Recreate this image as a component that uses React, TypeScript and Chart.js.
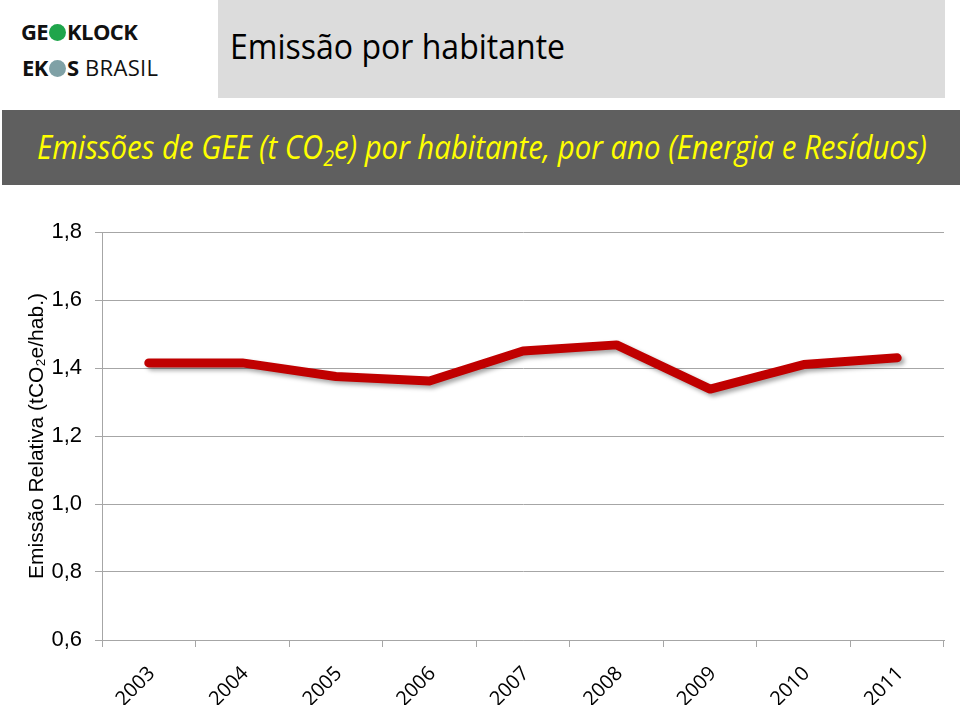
import React, { useEffect, useRef } from "react";
import { Chart, registerables } from "chart.js";

Chart.register(...registerables);

const years = ["2003", "2004", "2005", "2006", "2007", "2008", "2009", "2010", "2011"];
const emissions = [1.415, 1.415, 1.375, 1.362, 1.45, 1.468, 1.338, 1.41, 1.43];
const yTickValues = [0.6, 0.8, 1.0, 1.2, 1.4, 1.6, 1.8];

const shadowPlugin = {
  id: "lineShadow",
  beforeDatasetsDraw(chart: any) {
    const ctx = chart.ctx;
    ctx.save();
    ctx.shadowColor = "rgba(0,0,0,0.35)";
    ctx.shadowBlur = 4;
    ctx.shadowOffsetX = 3;
    ctx.shadowOffsetY = 3;
  },
  afterDatasetsDraw(chart: any) {
    chart.ctx.restore();
  },
};

function ChartBox() {
  const ref = useRef<HTMLCanvasElement | null>(null);
  useEffect(() => {
    if (!ref.current) return;
    const chart = new Chart(ref.current, {
      type: "line",
      data: {
        labels: years,
        datasets: [
          {
            data: emissions,
            borderColor: "#c00000",
            borderWidth: 9,
            borderCapStyle: "round",
            borderJoinStyle: "round",
            pointRadius: 0,
            tension: 0,
            fill: false,
          },
        ],
      },
      plugins: [shadowPlugin],
      options: {
        animation: false,
        responsive: true,
        maintainAspectRatio: false,
        layout: { padding: { top: 42, right: 16, left: 0, bottom: 0 } },
        plugins: { legend: { display: false }, tooltip: { enabled: false } },
        scales: {
          x: {
            type: "category",
            offset: true,
            grid: {
              offset: true,
              drawOnChartArea: false,
              drawTicks: true,
              tickLength: 7,
              color: "#a6a6a6",
            },
            border: { color: "#a6a6a6", width: 1 },
            ticks: {
              minRotation: 45,
              maxRotation: 45,
              padding: 15,
              labelOffset: 3,
              color: "#000",
              font: { family: "'Open Sans', sans-serif", size: 20 },
            },
            afterFit: (scale: any) => {
              scale.height = 65;
            },
          },
          y: {
            min: 0.6,
            max: 1.8,
            afterBuildTicks: (scale: any) => {
              scale.ticks = yTickValues.map((v) => ({ value: v }));
            },
            grid: {
              color: "#a6a6a6",
              tickLength: 7,
              drawTicks: true,
            },
            border: { color: "#a6a6a6", width: 1 },
            ticks: {
              padding: 13,
              color: "#000",
              font: { family: "'Liberation Sans', Arial, sans-serif", size: 22 },
              callback: (v: any) => Number(v).toFixed(1).replace(".", ","),
            },
            title: {
              display: true,
              text: "Emissão Relativa (tCO₂e/hab.)",
              color: "#000",
              font: { family: "'Liberation Sans', Arial, sans-serif", size: 21 },
              padding: { top: 25, bottom: 0 },
            },
            afterFit: (scale: any) => {
              scale.width = 102;
            },
          },
        },
      },
    });
    return () => chart.destroy();
  }, []);
  return (
    <div style={{ position: "absolute", left: 0, top: 190, width: 960, height: 515 }}>
      <canvas ref={ref} />
    </div>
  );
}

export default function App() {
  return (
    <div
      style={{
        position: "absolute",
        left: 0,
        top: 0,
        width: 960,
        height: 705,
        background: "#fff",
        overflow: "hidden",
        fontFamily: "'Open Sans', sans-serif",
      }}
    >
      {/* Logo */}
      <div
        style={{
          position: "absolute",
          left: 21,
          top: 18,
          fontFamily: "'Open Sans', sans-serif",
          fontWeight: 700,
          fontSize: 22,
          lineHeight: "26px",
          color: "#111",
          letterSpacing: -0.6,
          whiteSpace: "nowrap",
        }}
      >
        GE
        <span
          style={{
            display: "inline-block",
            width: 17,
            height: 17,
            borderRadius: "50%",
            background: "#1fa54b",
            margin: "0 1px",
            verticalAlign: "-1px",
          }}
        />
        KLOCK
      </div>
      <div
        style={{
          position: "absolute",
          left: 22,
          top: 54,
          fontFamily: "'Open Sans', sans-serif",
          fontSize: 22,
          lineHeight: "26px",
          color: "#111",
          whiteSpace: "nowrap",
        }}
      >
        <span style={{ fontWeight: 700, letterSpacing: -0.5 }}>EK</span>
        <span
          style={{
            display: "inline-block",
            width: 17,
            height: 17,
            borderRadius: "50%",
            background: "#7fa1a6",
            margin: "0 1px",
            verticalAlign: "-1px",
          }}
        />
        <span style={{ fontWeight: 700 }}>S</span>
        <span style={{ letterSpacing: 0.3 }}> BRASIL</span>
      </div>

      {/* Title box */}
      <div
        style={{
          position: "absolute",
          left: 218,
          top: 0,
          width: 727,
          height: 98,
          background: "#dcdcdc",
        }}
      />
      <div
        style={{
          position: "absolute",
          left: 230,
          top: 24,
          fontFamily: "'Open Sans', sans-serif",
          fontSize: 35,
          lineHeight: "44px",
          color: "#000",
          whiteSpace: "nowrap",
          transformOrigin: "left center",
          transform: "scaleX(0.915)",
        }}
      >
        Emissão por habitante
      </div>

      {/* Subtitle bar */}
      <div
        style={{
          position: "absolute",
          left: 2,
          top: 110,
          width: 958,
          height: 75,
          background: "#5f5f5f",
        }}
      />
      <div
        style={{
          position: "absolute",
          left: 37,
          top: 125,
          fontFamily: "'Open Sans', sans-serif",
          fontStyle: "italic",
          fontSize: 33,
          lineHeight: "44px",
          color: "#ffff00",
          whiteSpace: "nowrap",
          transformOrigin: "left center",
          transform: "scaleX(0.89)",
        }}
      >
        Emissões de GEE (t CO<sub style={{ fontSize: 22, verticalAlign: "-7px" }}>2</sub>e) por habitante, por ano (Energia e Resíduos)
      </div>

      <ChartBox />
    </div>
  );
}
